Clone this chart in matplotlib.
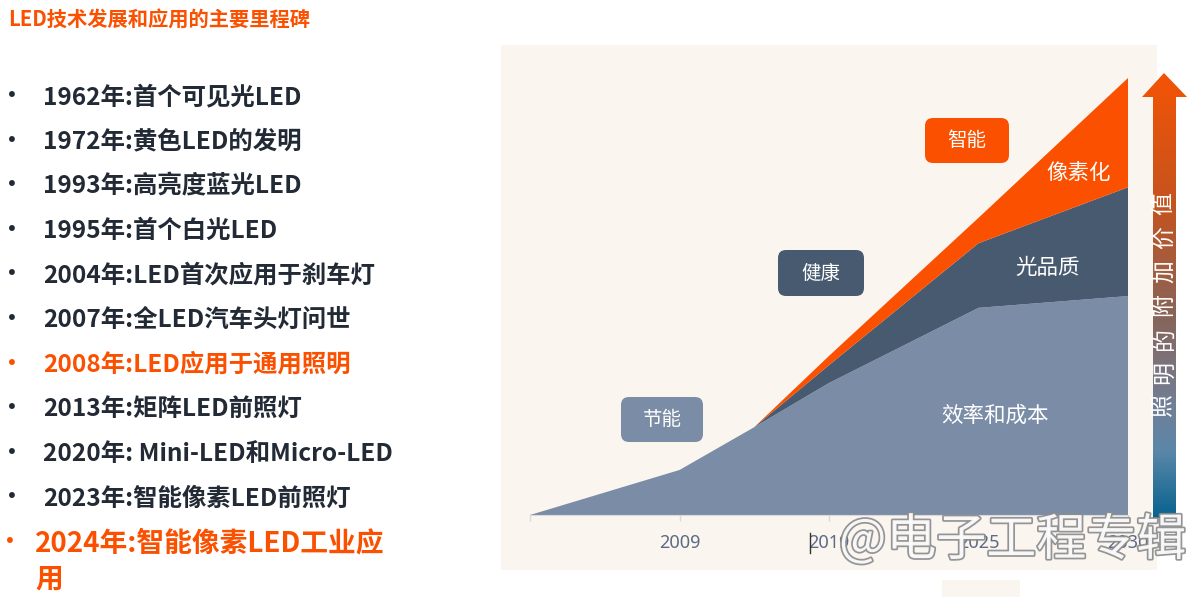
import matplotlib.pyplot as plt
import matplotlib.patheffects as pe
import numpy as np
from matplotlib.colors import LinearSegmentedColormap
from matplotlib.patches import FancyBboxPatch, Polygon, Rectangle

plt.rcParams['font.family'] = ['Noto Sans CJK SC', 'DejaVu Sans']

W, H = 1200, 597

TITLE = 'LED技术发展和应用的主要里程碑'
MILESTONES = [
    '1962年:首个可见光LED',
    '1972年:黄色LED的发明',
    '1993年:高亮度蓝光LED',
    '1995年:首个白光LED',
    '2004年:LED首次应用于刹车灯',
    '2007年:全LED汽车头灯问世',
    '2008年:LED应用于通用照明',
    '2013年:矩阵LED前照灯',
    '2020年: Mini-LED和Micro-LED',
    '2023年:智能像素LED前照灯',
]
HIGHLIGHTED = ['2008年:LED应用于通用照明']
LAST_MILESTONE = ['2024年:智能像素LED工业应', '用']

# chart data (arbitrary value units, top of orange layer = 100)
X_POS = [0, 1, 1.5, 2, 3, 4]
TICK_POS = [0, 1, 2, 3, 4]
TICK_LABELS = ['', '2009', '2019', '2025', '2030']
COST = [0, 10.3, 20.1, 30.2, 47.4, 50.1]
QUALITY = [0, 0, 0, 4.1, 14.8, 24.9]
PIXEL = [0, 0, 0, 2.1, 5.8, 25.0]
LAYER_NAMES = ['效率和成本', '光品质', '像素化']
STAGE_NAMES = ['节能', '健康', '智能']
ARROW_TEXT = '照明的附加价值'

ORANGE = '#fa5000'
DARK = '#485a70'
LIGHT = '#7b8da6'
PANEL = '#fbf5f0'
TEXT = '#222a35'


def Y(py):
    return H - py


fig = plt.figure(figsize=(W / 100, H / 100), dpi=100)
fig.patch.set_facecolor('white')

bg = fig.add_axes([0, 0, 1, 1], zorder=0)
bg.set_xlim(0, W)
bg.set_ylim(0, H)
bg.set_axis_off()

# panel background
bg.add_patch(Rectangle((501, Y(570)), 656, 525, color=PANEL, lw=0))
bg.add_patch(Rectangle((942, Y(597)), 78, 17, color=PANEL, lw=0))

# left-hand text
bg.text(8, Y(19), TITLE, color=ORANGE, fontsize=14.6, fontweight='bold',
        ha='left', va='center')
for i, item in enumerate(MILESTONES):
    y = Y(97 + i * 44.6)
    color = ORANGE if item in HIGHLIGHTED else TEXT
    bg.text(12, y, '•', color=color, fontsize=20, ha='center', va='center')
    bg.text(43, y, item, color=color, fontsize=17.6, fontweight='bold',
            ha='left', va='center')
bg.text(10, Y(543), '•', color=ORANGE, fontsize=20, ha='center', va='center')
bg.text(35, Y(543), LAST_MILESTONE[0], color=ORANGE, fontsize=20,
        fontweight='bold', ha='left', va='center')
bg.text(35, Y(579), LAST_MILESTONE[1], color=ORANGE, fontsize=20,
        fontweight='bold', ha='left', va='center')

# stacked area chart
x0, x1 = 530, 1128
yb, yt = 515, 78
ax = fig.add_axes([x0 / W, (H - yb) / H, (x1 - x0) / W, (yb - yt) / H],
                  zorder=1)
ax.patch.set_alpha(0)
ax.stackplot(X_POS, COST, QUALITY, PIXEL, colors=[LIGHT, DARK, ORANGE],
             lw=0)
ax.set_xlim(0, 4)
ax.set_ylim(0, 100)
ax.set_xticks(TICK_POS)
ax.set_xticklabels(TICK_LABELS, fontsize=13, color='#5b6b84',
                   family=['Noto Sans', 'DejaVu Sans'])
ax.tick_params(axis='x', length=4, width=1, color='#d9d9d9', pad=10)
ax.set_yticks([])
for side in ['top', 'right', 'left']:
    ax.spines[side].set_visible(False)
ax.spines['bottom'].set_color('#d9d9d9')

ax.text(3.11, 22.7, LAYER_NAMES[0], color='white', fontsize=15.5,
        fontweight='medium', ha='center', va='center')
ax.text(3.46, 56.5, LAYER_NAMES[1], color='white', fontsize=15.5,
        fontweight='medium', ha='center', va='center')
ax.text(3.67, 78.3, LAYER_NAMES[2], color='white', fontsize=15.5,
        fontweight='medium', ha='center', va='center')

# overlay: stage boxes, arrow, watermark
fg = fig.add_axes([0, 0, 1, 1], zorder=2)
fg.set_xlim(0, W)
fg.set_ylim(0, H)
fg.set_axis_off()
fg.patch.set_alpha(0)

boxes = [(621, 397, 82, 45, LIGHT), (778, 250, 86, 46, DARK),
         (925, 118, 84, 45, ORANGE)]
for (bx, by, bw, bh, c), name in zip(boxes, STAGE_NAMES):
    fg.add_patch(FancyBboxPatch((bx + 8, Y(by + bh) + 8), bw - 16, bh - 16,
                                boxstyle='round,pad=8', fc=c, ec='none'))
    fg.text(bx + bw / 2, Y(by + bh / 2), name, color='white', fontsize=14,
            ha='center', va='center')

arrow = Polygon([(1153, Y(518)), (1176, Y(518)), (1176, Y(97)),
                 (1187, Y(97)), (1164, Y(73)), (1142, Y(97)), (1153, Y(97))],
                closed=True, fc='none', ec='none')
fg.add_patch(arrow)
grad_cmap = LinearSegmentedColormap.from_list(
    'arrow', [(0, '#f45305'), (0.3, '#c4531f'), (0.55, '#86655a'),
              (0.75, '#717f98'), (0.85, '#5b87a8'), (1, '#07628f')])
grad = np.linspace(0, 1, 256).reshape(-1, 1)
img = fg.imshow(grad, cmap=grad_cmap, aspect='auto', origin='upper',
                extent=[1140, 1190, Y(518), Y(73)], zorder=1)
img.set_clip_path(arrow)
fg.set_xlim(0, W)
fg.set_ylim(0, H)

for i, ch in enumerate(ARROW_TEXT):
    fg.text(1164, Y(406 - i * 33.7), ch, color='white', fontsize=16.5,
            rotation=90, ha='center', va='center', zorder=2)

fg.plot([810, 810], [Y(533), Y(553)], color='#333333', lw=1)

fg.text(839, Y(541), '@电子工程专辑', color='white', alpha=0.92,
        fontsize=36, fontweight='medium', ha='left', va='center', zorder=4,
        path_effects=[pe.Stroke(linewidth=2.5, foreground=(0.55, 0.55, 0.55, 0.55)),
                      pe.Normal()])

fig.savefig('out.png', dpi=100)
plt.close(fig)
